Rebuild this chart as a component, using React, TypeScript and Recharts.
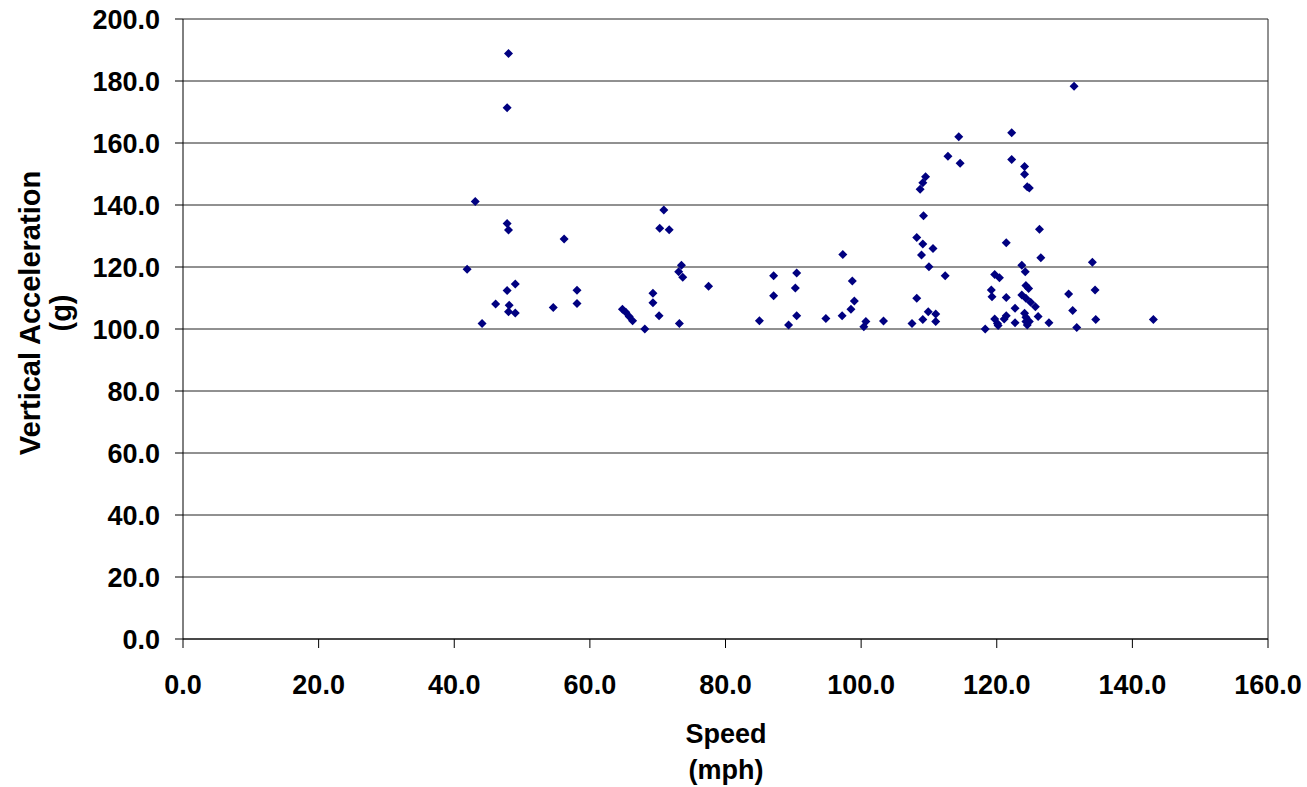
import { ScatterChart, Scatter, XAxis, YAxis, CartesianGrid, ReferenceLine } from 'recharts';

const speedMph = [
  41.9, 43.1, 44.1, 46.1, 47.8, 48.0, 47.8, 48.0, 47.8, 48.1, 48.0, 49.0, 49.0, 54.6, 56.2, 58.1, 58.1,
  64.8, 65.3, 65.8, 66.3, 68.1, 69.3, 69.3, 70.2, 70.3, 70.9, 71.7, 73.1, 73.5, 73.7, 73.2, 77.5,
  85.0, 87.1, 87.1, 89.3, 90.5, 90.3, 90.5, 94.8, 97.3, 97.2, 98.7, 99.0, 98.5, 100.7, 100.4, 103.3,
  107.5, 108.2, 108.2, 108.9, 109.1, 110.6, 110.0, 109.2, 108.7, 109.1, 109.5, 109.1, 109.9, 111.0, 111.0, 112.4, 112.8, 114.4, 114.6,
  118.3, 119.2, 119.3, 119.7, 120.4, 119.7, 120.1, 120.2, 121.4, 121.4, 121.4, 121.1, 122.2, 122.2, 122.7, 122.7,
  123.7, 124.2, 124.1, 124.1, 124.5, 124.8, 124.3, 124.7, 123.7, 124.3, 125.0, 125.7, 124.1, 124.3, 124.3, 124.8, 124.5,
  126.1, 126.3, 126.5, 127.7,
  130.6, 131.2, 131.4, 131.8, 134.1, 134.5, 134.6, 143.1,
];

const verticalG = [
  119.3, 141.1, 101.8, 108.1, 171.4, 188.9, 134.0, 131.9, 112.4, 107.7, 105.6, 114.5, 105.2, 106.9, 129.0, 112.5, 108.2,
  106.4, 105.4, 104.0, 102.7, 100.0, 111.5, 108.5, 104.3, 132.5, 138.4, 132.0, 118.5, 120.6, 116.7, 101.8, 113.8,
  102.7, 117.2, 110.7, 101.3, 118.1, 113.2, 104.3, 103.4, 124.0, 104.3, 115.5, 109.0, 106.4, 102.4, 100.7, 102.6,
  101.8, 109.9, 129.5, 123.9, 127.4, 126.0, 120.1, 136.5, 145.1, 147.2, 149.1, 103.1, 105.6, 104.8, 102.4, 117.2, 155.7, 162.0, 153.5,
  100.0, 112.6, 110.4, 117.6, 116.5, 103.2, 101.8, 101.1, 127.8, 110.2, 104.3, 103.2, 163.3, 154.7, 106.7, 102.0,
  120.6, 118.5, 152.4, 149.9, 145.9, 145.5, 114.0, 113.1, 111.0, 109.9, 108.6, 107.2, 105.1, 103.8, 102.4, 102.4, 101.3,
  104.0, 132.2, 123.0, 102.0,
  111.3, 106.0, 178.3, 100.5, 121.5, 112.6, 103.1, 103.1,
];

const xTicks = [0, 20, 40, 60, 80, 100, 120, 140, 160];
const yTicks = [0, 20, 40, 60, 80, 100, 120, 140, 160, 180, 200];

const data = speedMph.map((s, i) => ({ speed: s, accel: verticalG[i] }));

const FONT = '"Liberation Sans", Arial, sans-serif';

function Diamond(props: any) {
  const { cx, cy } = props;
  const r = 4.5;
  return (
    <polygon
      points={`${cx},${cy - r} ${cx + r},${cy} ${cx},${cy + r} ${cx - r},${cy}`}
      fill="#000080"
    />
  );
}

function YTitle() {
  const cy = 313;
  return (
    <g fontFamily={FONT} fontWeight="bold" fontSize={29} fill="#000">
      <text x={30} y={cy} transform={`rotate(-90, 30, ${cy})`} textAnchor="middle" dominantBaseline="central">
        Vertical Acceleration
      </text>
      <text x={61} y={cy} transform={`rotate(-90, 61, ${cy})`} textAnchor="middle" dominantBaseline="central">
        (g)
      </text>
    </g>
  );
}

function XTitle() {
  const cx = 726;
  return (
    <g fontFamily={FONT} fontWeight="bold" fontSize={27} fill="#000">
      <text x={cx} y={734} textAnchor="middle" dominantBaseline="central">Speed</text>
      <text x={cx} y={770} textAnchor="middle" dominantBaseline="central">(mph)</text>
    </g>
  );
}

export default function App() {
  const tickStyle = { fontSize: 27, fontWeight: 'bold', fill: '#000', fontFamily: FONT };
  return (
    <div style={{ position: 'absolute', left: 0, top: 0, width: 1307, height: 787, background: '#fff' }}>
      <ScatterChart width={1307} height={787} margin={{ top: 19, right: 39, bottom: 0, left: 0 }}>
        <CartesianGrid horizontal vertical={false} stroke="#222" />
        <XAxis
          type="number"
          dataKey="speed"
          domain={[0, 160]}
          ticks={xTicks}
          tickFormatter={(v: number) => v.toFixed(1)}
          height={148}
          tickSize={9}
          tickMargin={27}
          stroke="#000"
          tick={tickStyle}
          interval={0}
          label={{ content: () => <XTitle /> }}
        />
        <YAxis
          type="number"
          dataKey="accel"
          domain={[0, 200]}
          ticks={yTicks}
          tickFormatter={(v: number) => v.toFixed(1)}
          width={183}
          tickSize={8}
          tickMargin={15}
          stroke="#000"
          tick={tickStyle}
          interval={0}
          label={{ content: () => <YTitle /> }}
        />
        <ReferenceLine x={160} stroke="#222" />
        <Scatter data={data} shape={Diamond} isAnimationActive={false} />
      </ScatterChart>
    </div>
  );
}
